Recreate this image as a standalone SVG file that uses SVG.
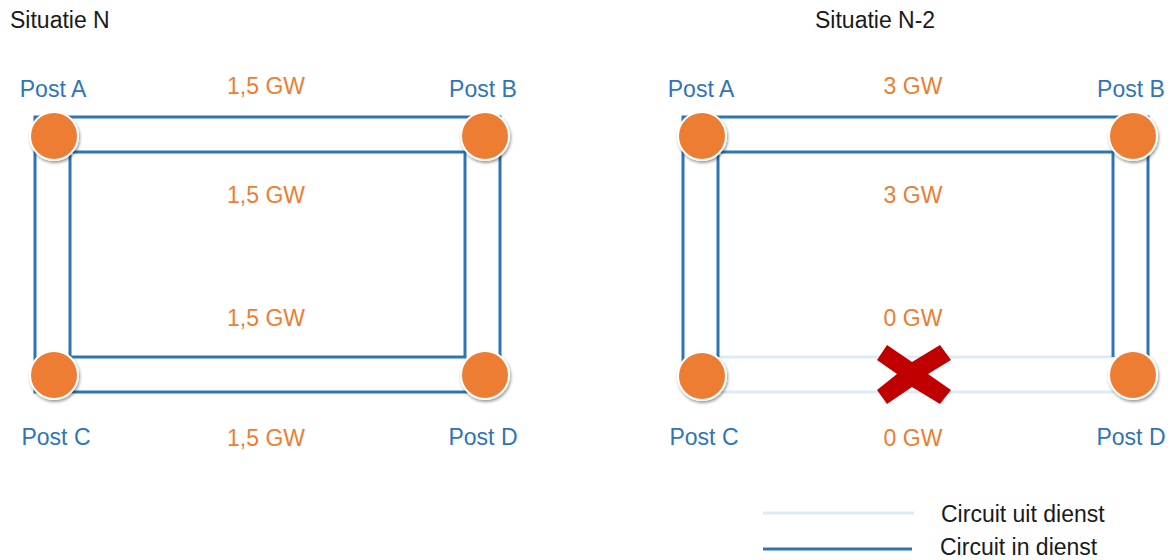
<svg xmlns="http://www.w3.org/2000/svg" width="1171" height="560" viewBox="0 0 1171 560">
<style>
text{font-family:"Liberation Sans",Arial,sans-serif;font-size:23px}
.title,.leg{fill:#1a1a1a}
.post{fill:#2E75B6;text-anchor:middle}
.gw{fill:#ED7D31;text-anchor:middle}
.on{fill:none;stroke:#2E75B6;stroke-width:3}
.off{fill:none;stroke:#DEEBF7;stroke-width:3}
.node{fill:#ED7D31;stroke:#fff;stroke-width:2;filter:url(#sh)}
</style>
<defs>
<filter id="sh" x="-30%" y="-30%" width="160%" height="160%">
<feDropShadow dx="1" dy="2" stdDeviation="1.8" flood-color="#000" flood-opacity="0.4"/>
</filter>
</defs>
<rect width="1171" height="560" fill="#fff"/>
<text class="title" x="10" y="28">Situatie N</text>
<text class="title" x="815" y="28">Situatie N-2</text>
<g id="connectors">
<rect class="on" x="35" y="117" width="465" height="275"/>
<rect class="on" x="70" y="152" width="395" height="205"/>
<path class="off" d="M702,392 H1133 M718,357 H1113"/>
<path class="on" d="M683,377 V117 H1148 V375"/>
<path class="on" d="M718,357 V152 H1113 V357"/>
</g>
<g id="cross">
<polygon fill="#C00000" points="887,345 912,362 940,345 951,360 928,374 951,390 940,404 912,387 887,404 877,390 897,374 877,360"/>
</g>
<g id="left-A"><circle class="node" cx="54" cy="136" r="24"/><text class="post" x="53" y="97">Post A</text></g>
<g id="left-B"><circle class="node" cx="485" cy="136" r="24"/><text class="post" x="483" y="97">Post B</text></g>
<g id="left-C"><circle class="node" cx="54" cy="375" r="24"/><text class="post" x="56" y="445">Post C</text></g>
<g id="left-D"><circle class="node" cx="485" cy="375" r="24"/><text class="post" x="483" y="445">Post D</text></g>
<g id="right-A"><circle class="node" cx="702" cy="136" r="24"/><text class="post" x="701" y="97">Post A</text></g>
<g id="right-B"><circle class="node" cx="1133" cy="136" r="24"/><text class="post" x="1131" y="97">Post B</text></g>
<g id="right-C"><circle class="node" cx="702" cy="376" r="24"/><text class="post" x="704" y="445">Post C</text></g>
<g id="right-D"><circle class="node" cx="1133" cy="375" r="24"/><text class="post" x="1131" y="445">Post D</text></g>
<g id="labels">
<text class="gw" x="266" y="94">1,5 GW</text>
<text class="gw" x="266" y="203">1,5 GW</text>
<text class="gw" x="266" y="326">1,5 GW</text>
<text class="gw" x="266" y="446">1,5 GW</text>
<text class="gw" x="913" y="94">3 GW</text>
<text class="gw" x="913" y="203">3 GW</text>
<text class="gw" x="913" y="326">0 GW</text>
<text class="gw" x="913" y="446">0 GW</text>
</g>
<g id="legend">
<line class="off" x1="763" y1="513" x2="914" y2="513" stroke-width="4"/>
<line class="on" x1="763" y1="549" x2="912" y2="549" stroke-width="4"/>
<text class="leg" x="941" y="522">Circuit uit dienst</text>
<text class="leg" x="940" y="555">Circuit in dienst</text>
</g>
</svg>
